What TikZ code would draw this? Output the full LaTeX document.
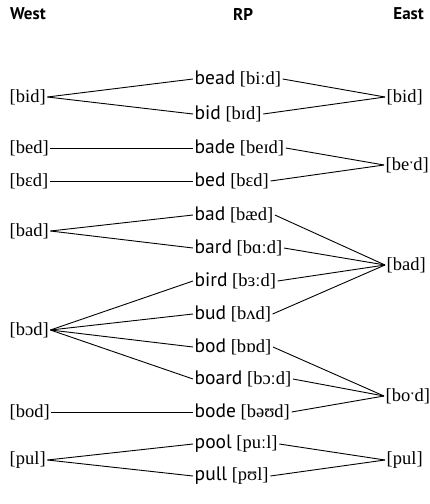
\documentclass[tikz,border=0pt]{standalone}
\usepackage{fontspec}
\setmainfont{Liberation Serif}
\setsansfont{PT Sans}
\usetikzlibrary{positioning}

\newcommand{\rpform}[2]{{\sffamily\fontsize{19.5}{22}\selectfont #1} [#2]}

\begin{document}
\begin{tikzpicture}[
  x=1pt,y=-1pt,
  head/.style={font=\sffamily\bfseries\fontsize{17}{20}\selectfont,inner sep=0pt},
  form/.style={font=\fontsize{18.5}{22}\selectfont,inner sep=1.5pt,anchor=west},
  link/.style={line width=0.9pt}
]
  \useasboundingbox (0,0) rectangle (430,504);

  % column heads
  \node[head,anchor=west] (hwest) at (10,14) {West};
  \node[head] (hrp) at (243,14) {RP};
  \node[head,anchor=east] (heast) at (424,14) {East};

  % RP words
  \node[form] (bead)  at (193,79)  {\rpform{bead}{biːd}};
  \node[form] (bid)   at (193,114) {\rpform{bid}{bɪd}};
  \node[form] (bade)  at (193,148) {\rpform{bade}{beɪd}};
  \node[form] (bed)   at (193,181) {\rpform{bed}{bɛd}};
  \node[form] (bad)   at (193,215) {\rpform{bad}{bæd}};
  \node[form] (bard)  at (193,248) {\rpform{bard}{bɑːd}};
  \node[form] (bird)  at (193,281) {\rpform{bird}{bɜːd}};
  \node[form] (bud)   at (193,314) {\rpform{bud}{bʌd}};
  \node[form] (bod)   at (193,347) {\rpform{bod}{bɒd}};
  \node[form] (board) at (193,379) {\rpform{board}{bɔːd}};
  \node[form] (bode)  at (193,412) {\rpform{bode}{bəʊd}};
  \node[form] (pool)  at (193,444) {\rpform{pool}{puːl}};
  \node[form] (pull)  at (193,476) {\rpform{pull}{pʊl}};

  % West
  \node[form] (wbid)  at (8,97)  {[bid]};
  \node[form] (wbed)  at (8,148) {[bed]};
  \node[form] (wbEd)  at (8,181) {[bɛd]};
  \node[form] (wbad)  at (8,231) {[bad]};
  \node[form] (wbOd)  at (8,330) {[bɔd]};
  \node[form] (wbod)  at (8,412) {[bod]};
  \node[form] (wpul)  at (8,460) {[pul]};

  % East
  \node[form] (ebid)  at (385,97)  {[bid]};
  \node[form] (ebed)  at (384,165) {[be{\kern-0.5pt}ˑ{\kern-0.5pt}d]};
  \node[form] (ebad)  at (385,265) {[bad]};
  \node[form] (ebod)  at (384,396) {[bo{\kern-0.5pt}ˑ{\kern-0.5pt}d]};
  \node[form] (epul)  at (385,460) {[pul]};

  % West to RP
  \draw[link] (wbid.east) -- (bead.west);
  \draw[link] (wbid.east) -- (bid.west);
  \draw[link] (wbed.east) -- (bade.west);
  \draw[link] (wbEd.east) -- (bed.west);
  \draw[link] (wbad.east) -- (bad.west);
  \draw[link] (wbad.east) -- (bard.west);
  \draw[link] (wbOd.east) -- (bird.west);
  \draw[link] (wbOd.east) -- (bud.west);
  \draw[link] (wbOd.east) -- (bod.west);
  \draw[link] (wbOd.east) -- (board.west);
  \draw[link] (wbod.east) -- (bode.west);
  \draw[link] (wpul.east) -- (pool.west);
  \draw[link] (wpul.east) -- (pull.west);

  % RP to East
  \draw[link] (bead.east) -- (ebid.west);
  \draw[link] (bid.east) -- (ebid.west);
  \draw[link] (bade.east) -- (ebed.west);
  \draw[link] (bed.east) -- (ebed.west);
  \draw[link] (bad.east) -- (ebad.west);
  \draw[link] (bard.east) -- (ebad.west);
  \draw[link] (bird.east) -- (ebad.west);
  \draw[link] (bud.east) -- (ebad.west);
  \draw[link] (bod.east) -- (ebod.west);
  \draw[link] (board.east) -- (ebod.west);
  \draw[link] (bode.east) -- (ebod.west);
  \draw[link] (pool.east) -- (epul.west);
  \draw[link] (pull.east) -- (epul.west);
\end{tikzpicture}
\end{document}
